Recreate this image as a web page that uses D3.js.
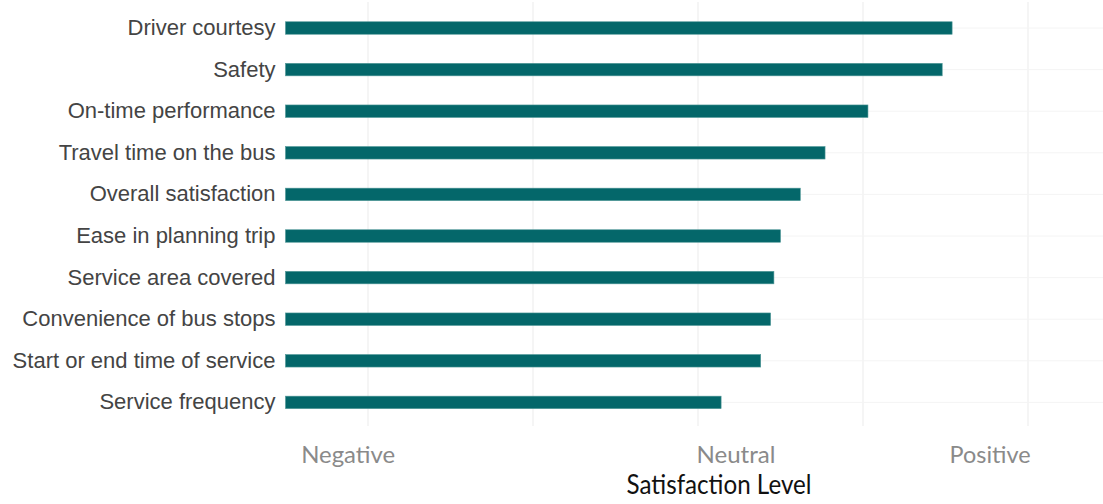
<!DOCTYPE html>
<html>
<head>
<meta charset="utf-8">
<script src="https://cdn.jsdelivr.net/npm/d3@7"></script>
<style>
  html, body { margin: 0; padding: 0; background: #fff; }
  svg { display: block; }
</style>
</head>
<body>
<svg id="chart" width="1103" height="504"></svg>
<script>
// Rider satisfaction by service attribute (1 = negative, 3 = neutral, 5 = positive)
const categories = [
  "Driver courtesy",
  "Safety",
  "On-time performance",
  "Travel time on the bus",
  "Overall satisfaction",
  "Ease in planning trip",
  "Service area covered",
  "Convenience of bus stops",
  "Start or end time of service",
  "Service frequency"
];
const scores = [4.54, 4.48, 4.03, 3.77, 3.62, 3.50, 3.46, 3.44, 3.38, 3.14];

const gridValues = [1, 2, 3, 4, 5];
const levelLabels = ["Negative", "Neutral", "Positive"];
const levelAt = [0.88, 3.23, 4.77];
const axisTitle = "Satisfaction Level";

const svg = d3.select("#chart");
const W = 1103;

const x = d3.scaleLinear().domain([1, 5]).range([368, 1028]);
const baseValue = 0.5;
const y = d3.scaleBand()
  .domain(categories)
  .range([7.2, 423.2])
  .paddingInner(0.7)
  .paddingOuter(0.35);

const panelTop = 2, panelBottom = 426;

// vertical grid
svg.append("g")
  .selectAll("line")
  .data(gridValues)
  .join("line")
  .attr("x1", d => x(d)).attr("x2", d => x(d))
  .attr("y1", panelTop).attr("y2", panelBottom)
  .attr("stroke", "#ebebeb")
  .attr("stroke-width", 1);

// horizontal grid through each bar
svg.append("g")
  .selectAll("line")
  .data(categories)
  .join("line")
  .attr("x1", x(baseValue)).attr("x2", W)
  .attr("y1", d => y(d) + y.bandwidth() / 2)
  .attr("y2", d => y(d) + y.bandwidth() / 2)
  .attr("stroke", "#f4f4f4")
  .attr("stroke-width", 1);

// bars
svg.append("g")
  .selectAll("rect")
  .data(categories.map((c, i) => ({ c, v: scores[i] })))
  .join("rect")
  .attr("x", x(baseValue))
  .attr("y", d => y(d.c))
  .attr("width", d => x(d.v) - x(baseValue))
  .attr("height", y.bandwidth())
  .attr("fill", "#04676a")
  .attr("stroke", "#4f9797")
  .attr("stroke-width", 0.6);

// category labels
const yAxis = d3.axisLeft(y).tickSize(0).tickPadding(10);
const gy = svg.append("g")
  .attr("transform", `translate(${x(baseValue)},0)`)
  .call(yAxis);
gy.select(".domain").remove();
gy.selectAll("text")
  .attr("font-family", "'Liberation Sans', Arial, sans-serif")
  .attr("font-size", 22)
  .attr("fill", "#444444");

// level labels along the bottom
const levelWidths = [94, 79, 81];
svg.append("g")
  .selectAll("text")
  .data(levelLabels)
  .join("text")
  .attr("x", (d, i) => x(levelAt[i]))
  .attr("y", 463)
  .attr("text-anchor", "middle")
  .attr("font-family", "Lato, 'Open Sans', sans-serif")
  .attr("font-size", 24)
  .attr("fill", "#8a8a8a")
  .attr("textLength", (d, i) => levelWidths[i])
  .attr("lengthAdjust", "spacingAndGlyphs")
  .text(d => d);

// axis title
svg.append("text")
  .attr("x", 719)
  .attr("y", 494)
  .attr("text-anchor", "middle")
  .attr("font-family", "Lato, 'Open Sans', sans-serif")
  .attr("font-size", 26)
  .attr("fill", "#111111")
  .attr("textLength", 185)
  .attr("lengthAdjust", "spacingAndGlyphs")
  .text(axisTitle);
</script>
</body>
</html>
